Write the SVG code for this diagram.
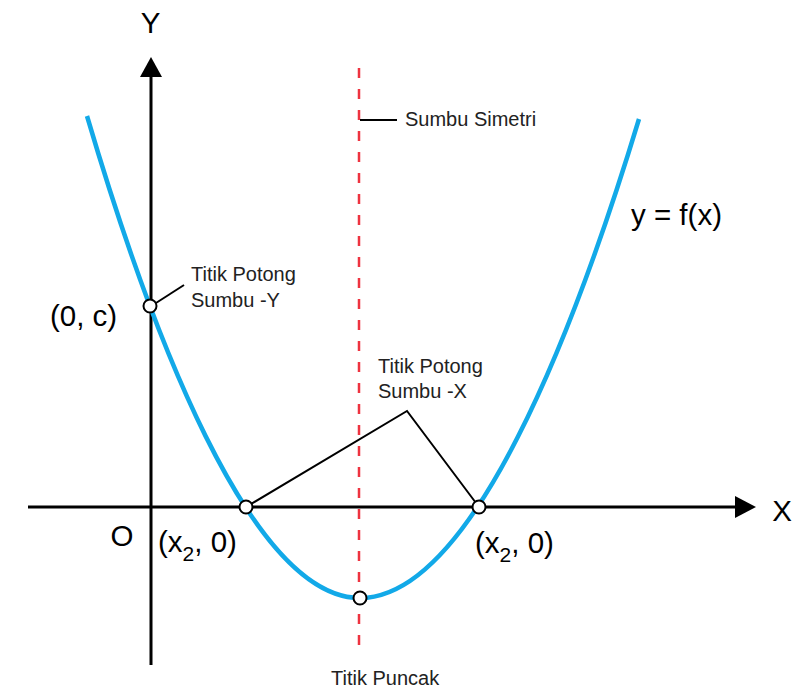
<svg xmlns="http://www.w3.org/2000/svg" width="798" height="691" viewBox="0 0 798 691">
<style>
.big{font-family:"Liberation Sans",Arial,sans-serif;font-size:29.5px;fill:#000}
.sm{font-family:"Liberation Sans",Arial,sans-serif;font-size:20px;fill:#222}
.ax{stroke:#000;stroke-width:3;fill:none}
.ld{stroke:#000;stroke-width:2;fill:none}
.pt{fill:#fff;stroke:#000;stroke-width:2}
</style>
<rect width="798" height="691" fill="#fff"/>
<g id="axes">
<line class="ax" x1="151" y1="665" x2="151" y2="74"/>
<polygon points="151,57 140,77 162,77" fill="#000"/>
<line class="ax" x1="28" y1="507" x2="738" y2="507"/>
<polygon points="756,507 735,496 735,518" fill="#000"/>
<text class="big" x="150.5" y="33" text-anchor="middle">Y</text>
<text class="big" x="782" y="521" text-anchor="middle">X</text>
<text class="big" x="122" y="546" text-anchor="middle">O</text>
</g>
<g id="symmetry-axis">
<line x1="359" y1="68" x2="359" y2="648" stroke="#EE3340" stroke-width="2.5" stroke-dasharray="10 11"/>
</g>
<g id="curve">
<path d="M87,116 C149.3,327 250,598 360,598 C472.4,598 575.3,328.6 639,119" fill="none" stroke="#12A9E8" stroke-width="4.5"/>
<text class="big" x="631" y="225">y = f(x)</text>
</g>
<g id="connectors">
<line class="ld" x1="360" y1="120" x2="397" y2="120"/>
<line class="ld" x1="156" y1="303" x2="184" y2="285"/>
<polyline class="ld" points="246,507 407,411 479,507"/>
</g>
<g id="label-symmetry">
<text class="sm" x="405" y="126">Sumbu Simetri</text>
</g>
<g id="node-y-intercept">
<circle class="pt" cx="150" cy="306" r="6.5"/>
<text class="big" x="50" y="326">(0, c)</text>
<text class="sm" x="191" y="281">Titik Potong</text>
<text class="sm" x="191" y="307">Sumbu -Y</text>
</g>
<g id="node-x-intercepts">
<circle class="pt" cx="246" cy="507" r="6.5"/>
<circle class="pt" cx="479" cy="507" r="6.5"/>
<text class="sm" x="378" y="373">Titik Potong</text>
<text class="sm" x="378" y="398">Sumbu -X</text>
<text class="big" x="158" y="552">(x<tspan font-size="21" dy="9">2</tspan><tspan dy="-9">, 0)</tspan></text>
<text class="big" x="475" y="553">(x<tspan font-size="21" dy="9">2</tspan><tspan dy="-9">, 0)</tspan></text>
</g>
<g id="node-vertex">
<circle class="pt" cx="360" cy="598" r="6.5"/>
<text class="sm" x="331" y="685">Titik Puncak</text>
</g>
</svg>
